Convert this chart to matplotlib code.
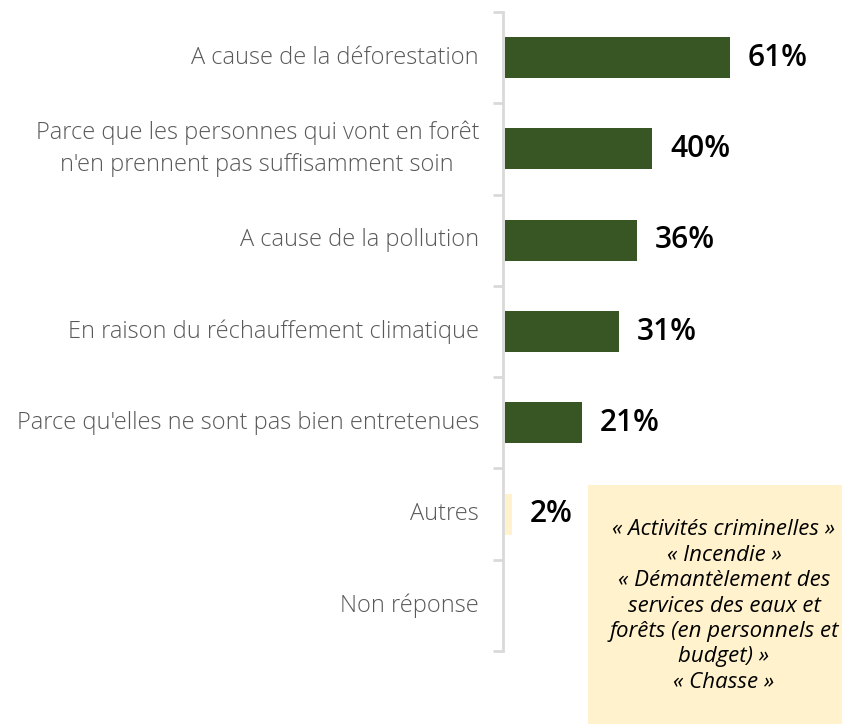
import matplotlib
matplotlib.use("Agg")
import matplotlib.pyplot as plt
from matplotlib.patches import Rectangle

categories = [
    "A cause de la déforestation",
    "Parce que les personnes qui vont en forêt\nn'en prennent pas suffisamment soin",
    "A cause de la pollution",
    "En raison du réchauffement climatique",
    "Parce qu'elles ne sont pas bien entretenues",
    "Autres",
    "Non réponse",
]
values = [61, 40, 36, 31, 21, 2, None]
labels = ["61%", "40%", "36%", "31%", "21%", "2%", ""]
bar_colors = ["#375623", "#375623", "#375623", "#375623", "#375623", "#FFF2CC", "#375623"]
note_lines = [
    "« Activités criminelles »",
    "« Incendie »",
    "« Démantèlement des",
    "services des eaux et",
    "forêts (en personnels et",
    "budget) »",
    "« Chasse »",
]

FONT = "Open Sans"
W, H = 842, 724
fig = plt.figure(figsize=(W / 100, H / 100), dpi=100)
ax_left = 503 / W
ax_bottom = (H - 651) / H
ax_top = (H - 12) / H
ax = fig.add_axes([ax_left, ax_bottom, 1 - ax_left, ax_top - ax_bottom])

n = len(categories)
for i, (v, c) in enumerate(zip(values, bar_colors)):
    if v is not None:
        ax.barh(i, v, height=0.45, color=c, left=0.5)
ax.set_ylim(n - 0.5, -0.5)
ax.set_xlim(0, 92)

for i, (v, lab) in enumerate(zip(values, labels)):
    if v is not None and lab:
        ax.text(v + 0.5 + 4.8, i, lab, va="center", ha="left", fontsize=21.5,
                fontweight="semibold", family=FONT, color="black")

for spine in ["top", "right", "bottom"]:
    ax.spines[spine].set_visible(False)
ax.spines["left"].set_color("#d9d9d9")
ax.spines["left"].set_linewidth(2)
ax.set_xticks([])
ax.set_yticks([y - 0.5 for y in range(n + 1)], minor=False)
ax.set_yticklabels([])
ax.tick_params(axis="y", length=7, width=2, color="#d9d9d9")
for i, cat in enumerate(categories):
    ax.text(-6.5, i, cat, va="center", ha="right", multialignment="center",
            fontsize=17, family=FONT, fontweight="light", color="#595959",
            linespacing=1.43)

# annotation box
bx0, by0, bx1, by1 = 588, 485, 842, 724
fig.patches.append(Rectangle((bx0 / W, 1 - by1 / H), (bx1 - bx0) / W, (by1 - by0) / H,
                             transform=fig.transFigure, facecolor="#FFF2CC",
                             edgecolor="none", zorder=0))
fig.text(724 / W, 1 - 606 / H, "\n".join(note_lines), ha="center",
         va="center", fontsize=16, style="italic", family=FONT, color="black",
         linespacing=1.28)

fig.savefig("out.png", dpi=100)
